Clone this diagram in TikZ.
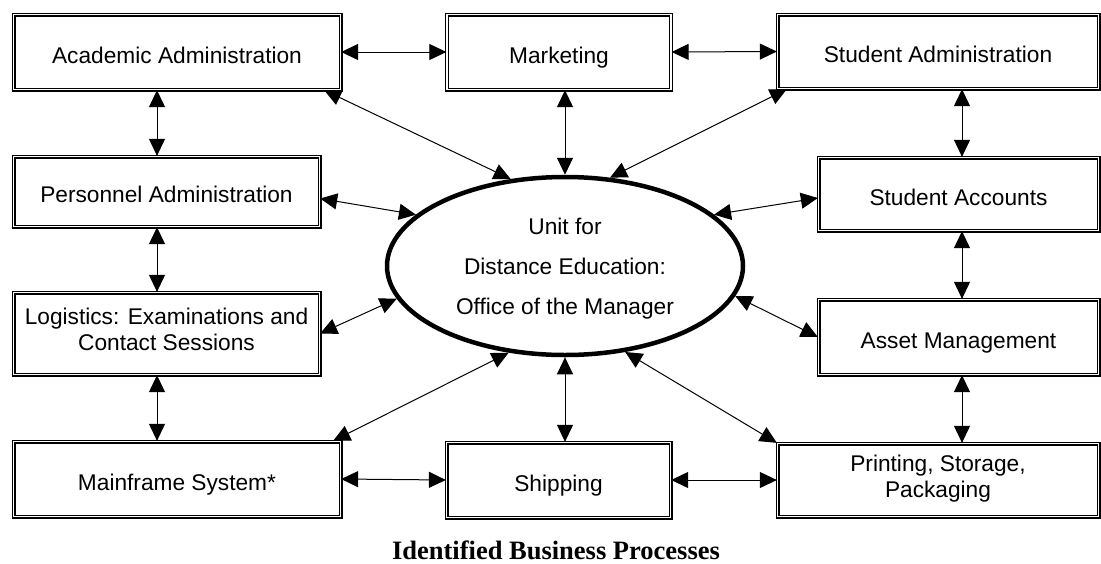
\documentclass[tikz,border=0pt]{standalone}
\usepackage{fontspec}
\setmainfont{Liberation Sans}
\newfontfamily\captionfont{Liberation Serif}
\usetikzlibrary{arrows.meta,shapes.geometric}

\begin{document}
\begin{tikzpicture}[x=1pt,y=-1pt,
	proc/.style={shape=rectangle,draw=black,double,double distance=1.4pt,line width=1.3pt,inner sep=0pt,font=\fontsize{22.7}{26}\selectfont},
	procone/.style={proc,text height=23pt,text depth=0.4pt},
	proctwo/.style={proc,align=center,execute at begin node=\strut,execute at end node=\strut},
	hub/.style={shape=ellipse,draw=black,line width=4.5pt,inner sep=0pt,minimum width=356pt,minimum height=178pt,align=center,font=\fontsize{22.7}{40}\selectfont},
	link/.style={{Triangle[length=17pt,width=16pt]}-{Triangle[length=17pt,width=16pt]},line width=1pt}]
	
	\useasboundingbox (0,0) rectangle (1101,563);
	
	\node[procone,minimum width=327pt,minimum height=75pt] (acad)  at (177, 52)    {Academic Administration};
	\node[procone,minimum width=224pt,minimum height=75pt] (mkt)   at (559, 52)    {Marketing};
	\node[procone,minimum width=321pt,minimum height=74pt] (sadm)  at (938, 51.5)  {Student Administration};
	\node[procone,minimum width=306pt,minimum height=70pt] (pers)  at (166.5, 191.5) {Personnel Administration};
	\node[procone,minimum width=280pt,minimum height=73pt] (sacc)  at (958.5, 194) {Student Accounts};
	\node[proctwo,minimum width=306pt,minimum height=82pt] (logi)  at (166.5, 333.5) {Logistics: Examinations and\\Contact Sessions};
	\node[procone,minimum width=280pt,minimum height=75pt] (asset) at (958.5, 337) {Asset Management};
	\node[procone,minimum width=327pt,minimum height=75pt] (mainf) at (177, 479)   {Mainframe System*};
	\node[procone,minimum width=224pt,minimum height=75pt] (ship)  at (558.5, 480) {Shipping};
	\node[proctwo,minimum width=321pt,minimum height=73pt] (print) at (938, 480)   {Printing, Storage,\\Packaging};
	\node[hub] (hub) at (565, 266) {\strut Unit for\\Distance Education:\\Office of the Manager\strut};
	\node[font=\captionfont\bfseries\fontsize{26.5}{30}\selectfont] (caption) at (556, 550) {Identified Business Processes};
	
	\coordinate (lcol) at (157, 0);
	\coordinate (rcol) at (962, 0);
	
	% outer ring
	\draw[link] (acad.east) -- (mkt.west);
	\draw[link] (mkt.east) -- (sadm.west);
	\draw[link] (acad.south -| lcol) -- (pers.north -| lcol);
	\draw[link] (pers.south -| lcol) -- (logi.north -| lcol);
	\draw[link] (logi.south -| lcol) -- (mainf.north -| lcol);
	\draw[link] (sadm.south -| rcol) -- (sacc.north -| rcol);
	\draw[link] (sacc.south -| rcol) -- (asset.north -| rcol);
	\draw[link] (asset.south -| rcol) -- (print.north -| rcol);
	\draw[link] (mainf.east) -- (ship.west);
	\draw[link] (ship.east) -- (print.west);
	
	% spokes to the office
	\draw[link] (mkt.south -| hub.north) -- (hub.north);
	\draw[link] (ship.north -| hub.south) -- (hub.south);
	\draw[link] ([xshift=-17pt]acad.south east) -- (hub.122);
	\draw[link] ([xshift=10pt]sadm.south west) -- (hub.63);
	\draw[link] ([yshift=-7pt]pers.east) -- (hub.161);
	\draw[link] ([yshift=-4pt]sacc.west) -- (hub.19);
	\draw[link] (logi.east) -- (hub.191);
	\draw[link] (asset.west) -- (hub.350);
	\draw[link] ([xshift=-8pt]mainf.north east) -- (hub.237);
	\draw[link] (print.north west) -- (hub.305);
	
\end{tikzpicture}
\end{document}
